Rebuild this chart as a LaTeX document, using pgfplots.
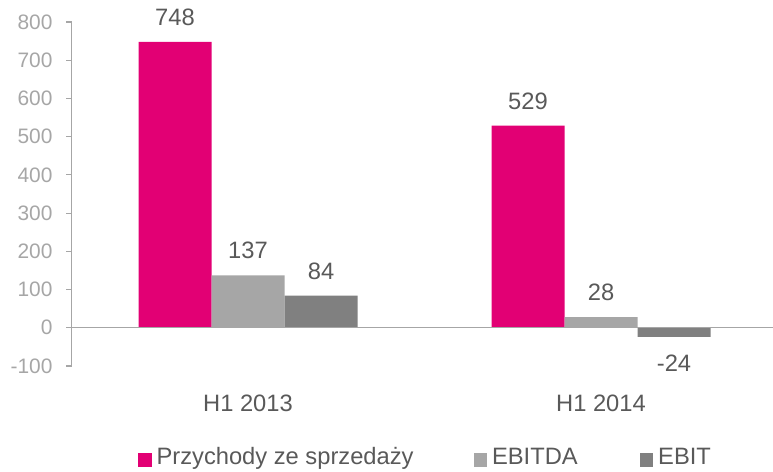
\documentclass[border=0pt]{standalone}
\usepackage{pgfplots}
\pgfplotsset{compat=1.18}
\usepackage{fontspec}
\setmainfont{Liberation Sans}
\definecolor{mag}{HTML}{E20074}
\definecolor{gone}{HTML}{A6A6A6}
\definecolor{gtwo}{HTML}{808080}
\definecolor{txt}{HTML}{595959}
\definecolor{tickc}{HTML}{A6A6A6}
\newcommand\fs{\fontsize{23.8}{28}\selectfont}
\newcommand\ft{\fontsize{21}{25}\selectfont}
\begin{document}
\begin{tikzpicture}
\useasboundingbox (0,0) rectangle (773bp,472bp);
\begin{axis}[
  at={(71.5bp,106bp)}, anchor=south west,
  scale only axis, width=706bp, height=344bp,
  xmin=-0.5, xmax=1.5, ymin=-100, ymax=800,
  ybar=0pt, bar width=73bp,
  axis y line*=left, axis x line*=bottom,
  x axis line style={draw=none},
  y axis line style={tickc, line width=1.2bp},
  xtick={0,1}, xticklabels={H1 2013, H1 2014},
  xtick style={draw=none},
  ytick={-100,0,100,200,300,400,500,600,700,800},
  ytick style={tickc, line width=1.2bp},
  tick align=outside, major tick length=5.5bp,
  /pgf/number format/assume math mode=true,
  yticklabel style={text=tickc, font=\ft, xshift=-10bp},
  xticklabel style={text=txt, font=\fs, yshift=-20bp},
  nodes near coords,
  visualization depends on=rawy \as \rawy,
  every node near coord/.append style={text=txt, font=\fs, inner ysep=16bp,
     yshift={ifthenelse(\rawy<0,-2,0)}},
  legend style={at={(0.5014,-0.2762)}, anchor=center, draw=none, fill=none,
     legend columns=3, font=\fs, text=txt,
     nodes={inner xsep=2bp, text height=0.72em, text depth=0.22em},
     /tikz/column 1/.style={column sep=3bp},
     /tikz/column 2/.style={column sep=58bp},
     /tikz/column 3/.style={column sep=3bp},
     /tikz/column 4/.style={column sep=60bp},
     /tikz/column 5/.style={column sep=3bp}},
  legend cell align=left,
  legend image code/.code={\fill[#1,draw=none] (0bp,-4.5bp) rectangle (13.5bp,9bp);},
]
\addplot[fill=mag, draw=none] coordinates {(0,748) (1,529)};
\addplot[fill=gone, draw=none] coordinates {(0,137) (1,28)};
\addplot[fill=gtwo, draw=none] coordinates {(0,84) (1,-24)};
\legend{Przychody ze sprzedaży, EBITDA, EBIT}
\draw[tickc, line width=1.2bp] (axis cs:-0.5,0) -- (axis cs:1.5,0);
\end{axis}
\end{tikzpicture}
\end{document}
